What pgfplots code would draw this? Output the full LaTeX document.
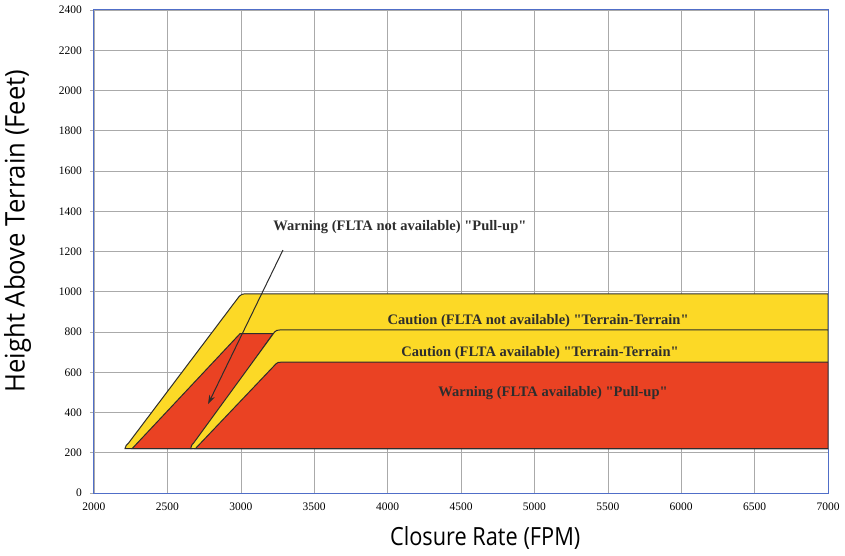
\documentclass[border=0pt]{standalone}
\usepackage{fontspec}
\setmainfont{Liberation Serif}
\newfontfamily\labelfont[FakeStretch=0.87]{Open Sans}
\newfontfamily\ylabelfont[FakeStretch=0.95]{Open Sans}
\usepackage{pgfplots}
\pgfplotsset{compat=1.18}
\usetikzlibrary{arrows.meta}
\definecolor{cyel}{RGB}{252,217,38}
\definecolor{cred}{RGB}{234,66,35}
\definecolor{edgec}{RGB}{45,45,45}
\definecolor{framec}{RGB}{80,110,200}
\definecolor{gridc}{RGB}{170,170,170}
\newcommand{\q}{\textquotedbl}
\begin{document}
\begin{tikzpicture}
\begin{axis}[name=ax, scale only axis, width=734pt, height=483pt,
  xmin=2000, xmax=7000, ymin=0, ymax=2400,
  xtick={2000,2500,...,7000}, ytick={0,200,...,2400},
  grid=major, major grid style={gridc, line width=0.6pt},
  axis line style={framec, line width=1pt},
  xtick pos=bottom, ytick pos=left, tick align=outside,
  major tick length=4pt,
  ytick style={gridc, line width=0.6pt},
  xtick style={draw=none},
  ticklabel style={font=\fontsize{11.5}{12}\selectfont},
  xticklabel style={yshift=-2pt},
  yticklabel style={xshift=-4.5pt},
  /pgf/number format/assume math mode=true,
  /pgf/number format/1000 sep={},
  xlabel={Closure Rate (FPM)},
  ylabel={Height Above Terrain (Feet)},
  xlabel style={font=\labelfont\fontsize{25}{27}\selectfont, at={(axis description cs:0.533,0)}, anchor=center, yshift=-45pt},
  ylabel style={font=\ylabelfont\fontsize{27}{29}\selectfont, at={(axis description cs:-0.104,0.5424)}, anchor=center},
]
% Caution (FLTA not available)
\addplot[fill=cyel, draw=edgec, line width=1pt] coordinates {(2211,220) (2219,236) (2234,247) (2990,978) (3008,987) (3030,990) (7000,990) (7000,220)} -- cycle;
% Warning (FLTA not available)
\addplot[fill=cred, draw=edgec, line width=1pt] coordinates {(2259,220) (2995,792) (3220,792) (2668,220)} -- cycle;
% Caution (FLTA available)
\addplot[fill=cyel, draw=edgec, line width=1pt] coordinates {(2658,220) (2666,238) (2682,252) (3230,800) (3245,808) (3265,810) (7000,810) (7000,220)} -- cycle;
% Warning (FLTA available)
\addplot[fill=cred, draw=edgec, line width=1pt] coordinates {(2690,220) (3240,642) (3255,649) (3275,650) (7000,650) (7000,220)} -- cycle;
\draw[edgec, line width=1pt, -{Stealth[length=9pt,width=6pt]}] (axis cs:3287,1207) -- (axis cs:2777,442);
\begin{scope}[every node/.style={font=\bfseries\fontsize{14.5}{15}\selectfont, text=edgec}]
\node at (axis cs:4084,1322) {Warning (FLTA not available) \q Pull-up\q};
\node at (axis cs:5025,855) {Caution (FLTA not available) \q Terrain-Terrain\q};
\node at (axis cs:5038,696) {Caution (FLTA available) \q Terrain-Terrain\q};
\node at (axis cs:5127,497) {Warning (FLTA available) \q Pull-up\q};
\end{scope}
\end{axis}
\pgfresetboundingbox
\path[use as bounding box] (ax.south west) ++(-94pt,-62pt) rectangle ++(845pt,555pt);
\end{tikzpicture}
\end{document}
